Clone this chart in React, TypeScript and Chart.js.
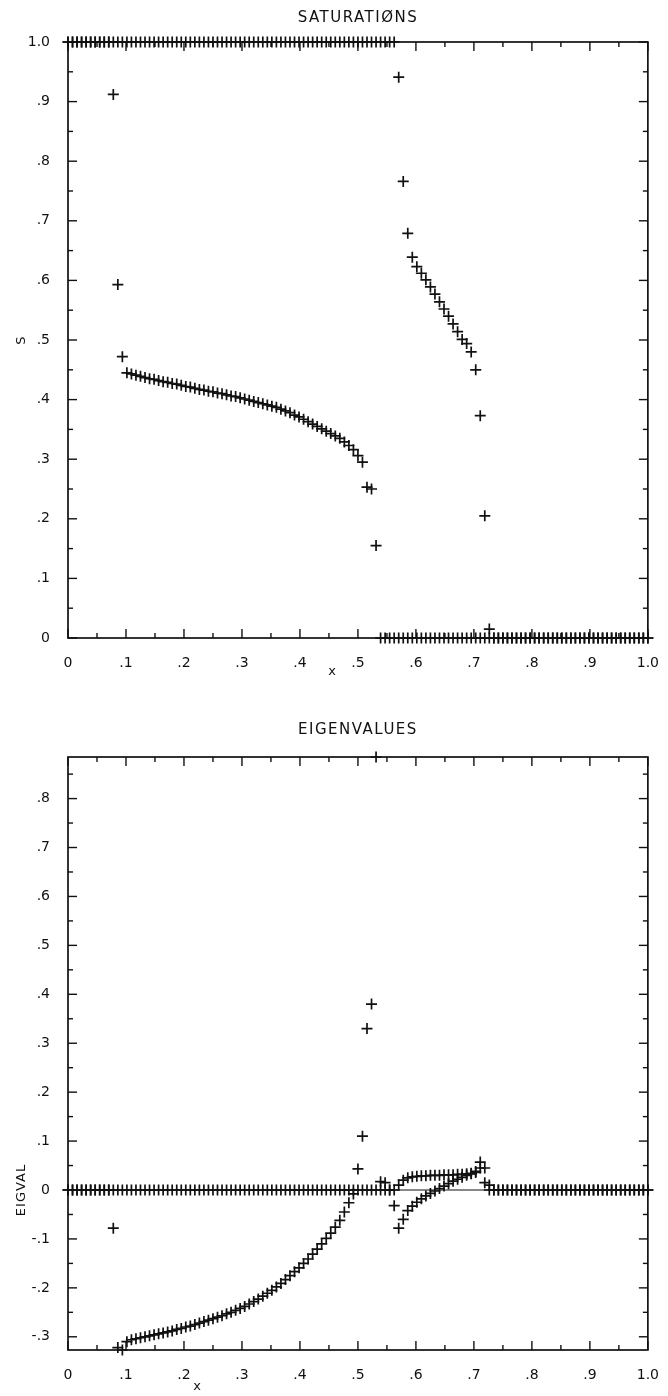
import { useEffect, useRef } from 'react';
import { Chart, registerables } from 'chart.js';

Chart.register(...registerables);

// Regular mesh of the computation (cell nodes on [0, 1])
const GRID_CELLS = 128;
const gridX: number[] = Array.from({ length: GRID_CELLS + 1 }, (_, i) => i / GRID_CELLS);

const xTickValues = [0, 0.1, 0.2, 0.3, 0.4, 0.5, 0.6, 0.7, 0.8, 0.9, 1.0];
const xTickLabels = ['0', '.1', '.2', '.3', '.4', '.5', '.6', '.7', '.8', '.9', '1.0'];
const satTickValues = [0, 0.1, 0.2, 0.3, 0.4, 0.5, 0.6, 0.7, 0.8, 0.9, 1.0];
const satTickLabels = ['0', '.1', '.2', '.3', '.4', '.5', '.6', '.7', '.8', '.9', '1.0'];
const eigTickValues = [-0.3, -0.2, -0.1, 0, 0.1, 0.2, 0.3, 0.4, 0.5, 0.6, 0.7, 0.8];
const eigTickLabels = ['-.3', '-.2', '-.1', '0', '.1', '.2', '.3', '.4', '.5', '.6', '.7', '.8'];

// SATURATIØNS — first saturation, one value per mesh node
const saturation1: number[] = [
  1, 1, 1, 1, 1, 1, 1, 1, 1, 1,
  0.912, 0.593, 0.472, 0.445,
  0.443, 0.441, 0.439, 0.437, 0.435, 0.434, 0.432, 0.430, 0.429, 0.427,
  0.426, 0.424, 0.422, 0.421, 0.419, 0.417, 0.416, 0.414, 0.413, 0.411,
  0.410, 0.408, 0.406, 0.405, 0.403, 0.401, 0.399, 0.397, 0.395, 0.393,
  0.391, 0.389, 0.387, 0.384, 0.381, 0.378, 0.374, 0.371, 0.367, 0.363,
  0.359, 0.355, 0.351, 0.347, 0.343, 0.339, 0.335, 0.329, 0.323, 0.316,
  0.306, 0.295, 0.253, 0.250, 0.155,
  0, 0, 0, 0, 0, 0, 0, 0, 0, 0,
  0, 0, 0, 0, 0, 0, 0, 0, 0, 0,
  0, 0, 0, 0, 0, 0, 0, 0, 0, 0,
  0, 0, 0, 0, 0, 0, 0, 0, 0, 0,
  0, 0, 0, 0, 0, 0, 0, 0, 0, 0,
  0, 0, 0, 0, 0, 0, 0, 0, 0, 0,
];

// SATURATIØNS — second saturation
const saturation2: number[] = [
  1, 1, 1, 1, 1, 1, 1, 1, 1, 1,
  1, 1, 1, 1, 1, 1, 1, 1, 1, 1,
  1, 1, 1, 1, 1, 1, 1, 1, 1, 1,
  1, 1, 1, 1, 1, 1, 1, 1, 1, 1,
  1, 1, 1, 1, 1, 1, 1, 1, 1, 1,
  1, 1, 1, 1, 1, 1, 1, 1, 1, 1,
  1, 1, 1, 1, 1, 1, 1, 1, 1, 1,
  1, 1, 1,
  0.941, 0.766, 0.679, 0.639, 0.623, 0.612, 0.601, 0.589, 0.577, 0.564,
  0.552, 0.540, 0.527, 0.514, 0.501, 0.494, 0.480, 0.450, 0.373, 0.205,
  0.015,
  0, 0, 0, 0, 0, 0, 0, 0, 0, 0,
  0, 0, 0, 0, 0, 0, 0, 0, 0, 0,
  0, 0, 0, 0, 0, 0, 0, 0, 0, 0,
  0, 0, 0, 0, 0,
];

// EIGENVALUES — first eigenvalue
const eigen1: number[] = [
  0, 0, 0, 0, 0, 0, 0, 0, 0, 0,
  0, 0, 0, 0, 0, 0, 0, 0, 0, 0,
  0, 0, 0, 0, 0, 0, 0, 0, 0, 0,
  0, 0, 0, 0, 0, 0, 0, 0, 0, 0,
  0, 0, 0, 0, 0, 0, 0, 0, 0, 0,
  0, 0, 0, 0, 0, 0, 0, 0, 0, 0,
  0, 0, 0, 0, 0, 0, 0, 0, 0, 0,
  0.015, 0, 0,
  0.010, 0.020, 0.025, 0.027, 0.028, 0.029, 0.029, 0.030, 0.030, 0.030,
  0.031, 0.031, 0.031, 0.032, 0.032, 0.033, 0.034, 0.036, 0.057, 0.045,
  0.010,
  0, 0, 0, 0, 0, 0, 0, 0, 0, 0,
  0, 0, 0, 0, 0, 0, 0, 0, 0, 0,
  0, 0, 0, 0, 0, 0, 0, 0, 0, 0,
  0, 0, 0, 0, 0,
];

// EIGENVALUES — second eigenvalue
const eigen2: number[] = [
  0, 0, 0, 0, 0, 0, 0, 0, 0, 0,
  -0.078, -0.322, -0.327, -0.310,
  -0.306, -0.304, -0.302, -0.300, -0.298, -0.296, -0.294, -0.292, -0.290, -0.288,
  -0.285, -0.283, -0.280, -0.278, -0.275, -0.272, -0.269, -0.266, -0.263, -0.260,
  -0.257, -0.253, -0.250, -0.246, -0.242, -0.238, -0.233, -0.228, -0.223, -0.217,
  -0.211, -0.205, -0.198, -0.191, -0.183, -0.175, -0.167, -0.159, -0.150, -0.141,
  -0.131, -0.121, -0.110, -0.099, -0.088, -0.076, -0.062, -0.045, -0.026, -0.008,
  0.043, 0.110, 0.330, 0.380, 0.885,
  0.017, 0, 0,
  -0.032, -0.078, -0.060, -0.042, -0.033, -0.025, -0.018, -0.012, -0.007, -0.002,
  0.003, 0.008, 0.013, 0.018, 0.022, 0.026, 0.030, 0.033, 0.038, 0.045,
  0.015, 0,
  0, 0, 0, 0, 0, 0, 0, 0, 0, 0,
  0, 0, 0, 0, 0, 0, 0, 0, 0, 0,
  0, 0, 0, 0, 0, 0, 0, 0, 0, 0,
  0, 0, 0, 0, 0,
];

const INK = '#111111';
const FONT = 'DejaVu Sans';

function labelFor(values: number[], labels: string[]) {
  return (v: number | string) => {
    const n = Number(v);
    const idx = values.findIndex((t) => Math.abs(t - n) < 1e-6);
    return idx >= 0 ? labels[idx] : '';
  };
}

interface Deco {
  title: string;
  titleY: number;
  yTitle: string;
  yTitleX: number;
  yTitleY: number;
  xTitle: string;
  xTitleX: number;
  xTitleY: number;
  zeroLine: boolean;
}

function makeFramePlugin(d: Deco) {
  return {
    id: 'frameDeco',
    afterDatasetsDraw(chart: any) {
      const { ctx, chartArea: a, scales } = chart;
      const xs = scales.x;
      const ys = scales.y;
      const seg = (x1: number, y1: number, x2: number, y2: number) => {
        ctx.beginPath();
        ctx.moveTo(x1, y1);
        ctx.lineTo(x2, y2);
        ctx.stroke();
      };
      ctx.save();
      ctx.strokeStyle = INK;
      if (d.zeroLine) {
        ctx.lineWidth = 1.2;
        const pz = ys.getPixelForValue(0);
        seg(a.left, pz, a.right, pz);
      }
      ctx.lineWidth = 1.7;
      ctx.strokeRect(a.left, a.top, a.right - a.left, a.bottom - a.top);
      ctx.lineWidth = 1.4;
      const step = 0.05;
      for (let k = Math.ceil(xs.min / step - 1e-6); k <= Math.floor(xs.max / step + 1e-6); k++) {
        const px = xs.getPixelForValue(k * step);
        const len = Math.abs(k) % 2 === 0 ? 9 : 5;
        seg(px, a.bottom, px, a.bottom - len);
        seg(px, a.top, px, a.top + len);
      }
      for (let k = Math.ceil(ys.min / step - 1e-6); k <= Math.floor(ys.max / step + 1e-6); k++) {
        const py = ys.getPixelForValue(k * step);
        const len = Math.abs(k) % 2 === 0 ? 9 : 5;
        seg(a.left, py, a.left + len, py);
        seg(a.right, py, a.right - len, py);
      }
      // texts
      ctx.fillStyle = INK;
      ctx.textAlign = 'center';
      ctx.textBaseline = 'middle';
      ctx.font = `15px "${FONT}"`;
      try { (ctx as any).letterSpacing = '1.5px'; } catch (e) { /* ignore */ }
      ctx.fillText(d.title, (a.left + a.right) / 2, d.titleY);
      try { (ctx as any).letterSpacing = '0px'; } catch (e) { /* ignore */ }
      ctx.font = `13px "${FONT}"`;
      ctx.fillText(d.xTitle, d.xTitleX, d.xTitleY);
      ctx.save();
      ctx.translate(d.yTitleX, d.yTitleY);
      ctx.rotate(-Math.PI / 2);
      try { (ctx as any).letterSpacing = '1px'; } catch (e) { /* ignore */ }
      ctx.fillText(d.yTitle, 0, 0);
      ctx.restore();
      ctx.restore();
    },
  };
}

function makeConfig(
  series: number[][],
  yMin: number,
  yMax: number,
  yTicks: number[],
  yLabels: string[],
  padTop: number,
  xAxisHeight: number,
  deco: Deco,
): any {
  return {
    type: 'scatter',
    data: {
      datasets: series.map((s) => ({
        data: gridX.map((x, i) => ({ x, y: s[i] })),
        showLine: false,
        pointStyle: 'cross',
        pointRadius: 5.5,
        pointBorderWidth: 1.7,
        pointBorderColor: INK,
        borderColor: INK,
        backgroundColor: INK,
        clip: false,
      })),
    },
    options: {
      responsive: false,
      animation: false,
      devicePixelRatio: 1,
      events: [],
      layout: { padding: { left: 0, right: 12, top: padTop, bottom: 0 } },
      plugins: {
        legend: { display: false },
        title: { display: false },
        tooltip: { enabled: false },
      },
      scales: {
        x: {
          type: 'linear',
          min: 0,
          max: 1,
          afterFit: (s: any) => {
            s.height = xAxisHeight;
          },
          grid: { display: false },
          border: { display: false },
          ticks: {
            stepSize: 0.1,
            includeBounds: false,
            autoSkip: false,
            maxRotation: 0,
            padding: 9,
            color: INK,
            font: { family: FONT, size: 14 },
            callback: labelFor(xTickValues, xTickLabels),
          },
        },
        y: {
          type: 'linear',
          min: yMin,
          max: yMax,
          afterFit: (s: any) => {
            s.width = 68;
          },
          grid: { display: false },
          border: { display: false },
          ticks: {
            stepSize: 0.1,
            includeBounds: false,
            autoSkip: false,
            padding: 10,
            color: INK,
            font: { family: FONT, size: 14 },
            callback: labelFor(yTicks, yLabels),
          },
        },
      },
    },
    plugins: [makeFramePlugin(deco)],
  };
}

export default function App() {
  const topRef = useRef<HTMLCanvasElement>(null);
  const botRef = useRef<HTMLCanvasElement>(null);

  useEffect(() => {
    const top = new Chart(
      topRef.current as HTMLCanvasElement,
      makeConfig([saturation1, saturation2], 0, 1, satTickValues, satTickLabels, 42, 60, {
        title: 'SATURATIØNS',
        titleY: 18,
        yTitle: 'S',
        yTitleX: 22,
        yTitleY: 340,
        xTitle: 'x',
        xTitleX: 332,
        xTitleY: 672,
        zeroLine: false,
      }),
    );
    const bot = new Chart(
      botRef.current as HTMLCanvasElement,
      makeConfig([eigen1, eigen2], -0.327, 0.885, eigTickValues, eigTickLabels, 59, 46, {
        title: 'EIGENVALUES',
        titleY: 32,
        yTitle: 'EIGVAL',
        yTitleX: 22,
        yTitleY: 492,
        xTitle: 'x',
        xTitleX: 197,
        xTitleY: 689,
        zeroLine: true,
      }),
    );
    return () => {
      top.destroy();
      bot.destroy();
    };
  }, []);

  return (
    <div style={{ position: 'absolute', left: 0, top: 0, width: 668, height: 1396, background: '#fff' }}>
      <canvas
        ref={topRef}
        width={668}
        height={698}
        style={{ position: 'absolute', left: 0, top: 0, width: 668, height: 698 }}
      />
      <canvas
        ref={botRef}
        width={668}
        height={698}
        style={{ position: 'absolute', left: 0, top: 698, width: 668, height: 698 }}
      />
    </div>
  );
}
